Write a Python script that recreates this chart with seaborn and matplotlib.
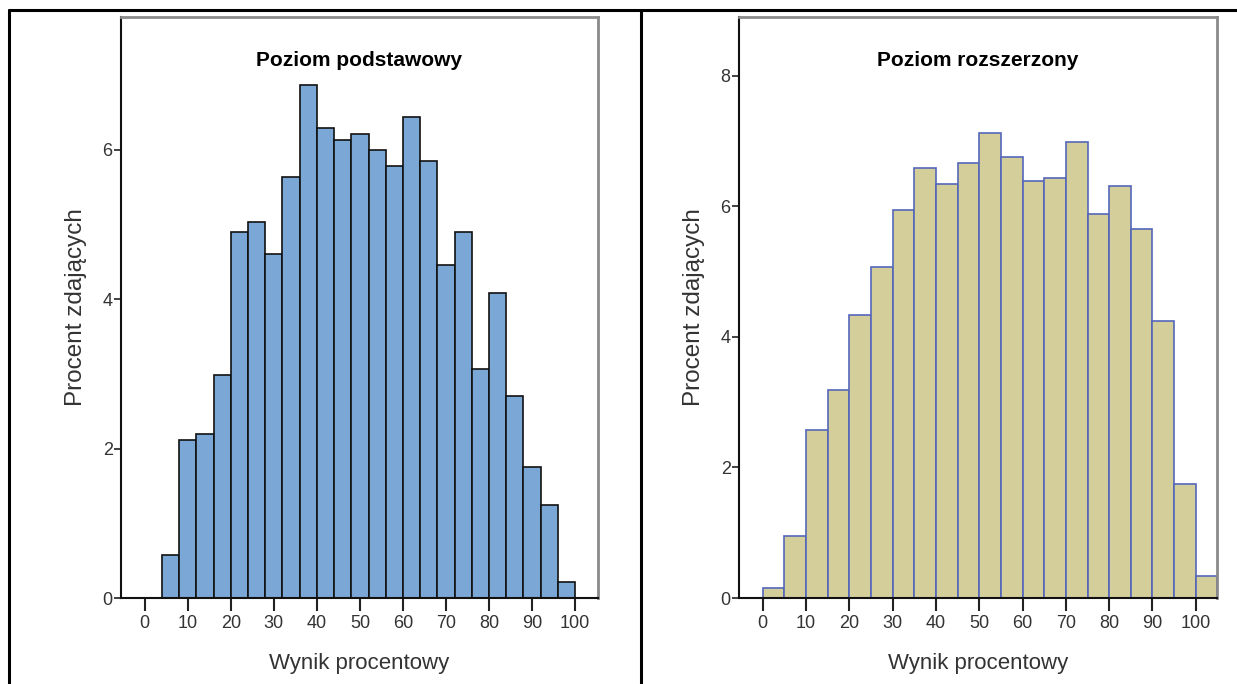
import matplotlib
matplotlib.use('Agg')
import matplotlib.pyplot as plt
import seaborn as sns
import numpy as np
from matplotlib.lines import Line2D

# ---------------------------------------------------------------------------
# Data (percent of students per score bin)
# ---------------------------------------------------------------------------

basic_edges = list(range(4, 101, 4))
basic_pct = [0.58, 2.12, 2.19, 2.99, 4.90, 5.04, 4.61, 5.64, 6.87, 6.30, 6.14, 6.22,
             6.00, 5.78, 6.44, 5.85, 4.46, 4.90, 3.07, 4.09, 2.70, 1.75, 1.24, 0.21]

ext_edges = list(range(0, 106, 5))
ext_pct = [0.16, 0.95, 2.57, 3.19, 4.33, 5.07, 5.95, 6.58, 6.34, 6.66, 7.12,
           6.76, 6.39, 6.44, 6.99, 5.88, 6.31, 5.66, 4.24, 1.74, 0.33]

titles = ["Poziom podstawowy", "Poziom rozszerzony"]
x_label = "Wynik procentowy"
y_label = "Procent zdających"
x_ticks = list(range(0, 101, 10))

# ---------------------------------------------------------------------------
# Style
# ---------------------------------------------------------------------------

sns.set_style("white")
plt.rcParams["font.family"] = ["Liberation Sans", "DejaVu Sans"]

TEXT = "#333333"
GRAY = "#8a8a8a"


def draw_panel(ax, edges, pct, fill, edge, ylim, yticks, title):
    centers = [(a + b) / 2 for a, b in zip(edges[:-1], edges[1:])]
    sns.histplot(x=centers, weights=pct, bins=edges, ax=ax, stat="count",
                 color=fill, edgecolor=edge, linewidth=1.2, alpha=1.0)
    ax.set_xlim(-5.5, 105.3)
    ax.set_ylim(*ylim)
    ax.set_xticks(x_ticks)
    ax.set_yticks(yticks)
    ax.tick_params(axis="x", length=9, width=1.5, color="#222222",
                   labelsize=13, labelcolor=TEXT, pad=3, direction="out", bottom=True)
    ax.tick_params(axis="y", length=5, width=1.2, color="#222222",
                   labelsize=13, labelcolor=TEXT, pad=1, direction="out", left=True)
    ax.set_xlabel(x_label, fontsize=16, color=TEXT, labelpad=15)
    ax.set_ylabel(y_label, fontsize=17.5, color=TEXT, labelpad=11)
    ax.text(0.5, 0.926, title, transform=ax.transAxes, ha="center", va="center",
            fontsize=15, fontweight="bold", color="black")
    for side in ["left", "bottom"]:
        ax.spines[side].set_color("#111111")
        ax.spines[side].set_linewidth(1.5)
    for side in ["top", "right"]:
        ax.spines[side].set_color(GRAY)
        ax.spines[side].set_linewidth(2.0)


fig = plt.figure(figsize=(12.37, 6.84), dpi=100)
ax1 = fig.add_axes([0.0978, 0.1257, 0.3856, 0.8494])
ax2 = fig.add_axes([0.5974, 0.1257, 0.3864, 0.8494])

draw_panel(ax1, basic_edges, basic_pct, "#7ba7d7", "#111111",
           (0, 7.78), [0, 2, 4, 6], titles[0])
draw_panel(ax2, ext_edges, ext_pct, "#d4cf9a", "#5566bb",
           (0, 8.9), [0, 2, 4, 6, 8], titles[1])
ax2.set_xlim(-5.5, 104.9)

# table-like frame around the panels
frame = dict(color="black", linewidth=2.2, transform=fig.transFigure)
fig.add_artist(Line2D([0.0073, 1.0], [0.9854, 0.9854], **frame))
fig.add_artist(Line2D([0.0073, 0.0073], [0.0, 0.9854], **frame))
fig.add_artist(Line2D([0.518, 0.518], [0.0, 0.9854], **frame))

fig.savefig("out.png", dpi=100)
plt.close()
